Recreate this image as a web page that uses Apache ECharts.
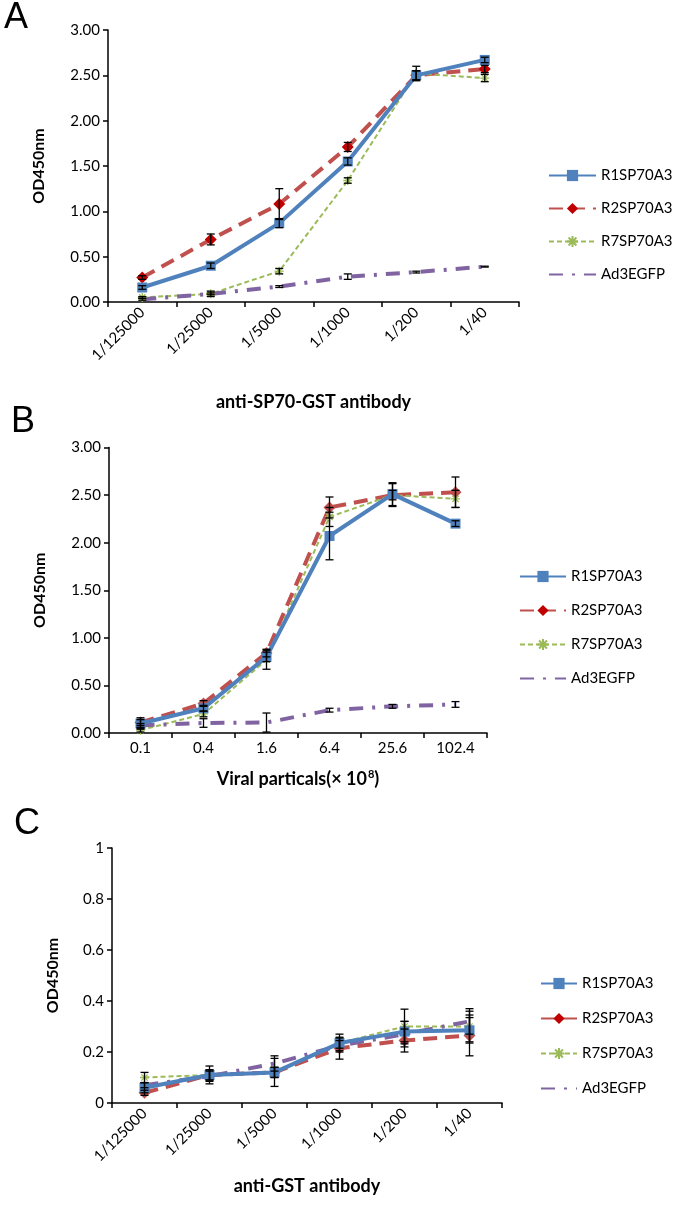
<!DOCTYPE html>
<html><head><meta charset="utf-8">
<script src="https://cdn.jsdelivr.net/npm/echarts@6/dist/echarts.min.js"></script>
<style>html,body{margin:0;padding:0;background:#fff}#c{width:684px;height:1218px}</style>
</head><body><div id="c"></div>
<script>
// ---- data ----
const seriesNames = ['R1SP70A3', 'R2SP70A3', 'R7SP70A3', 'Ad3EGFP'];
const dilutionLabels = ['1/125000', '1/25000', '1/5000', '1/1000', '1/200', '1/40'];
const viralLabels = ['0.1', '0.4', '1.6', '6.4', '25.6', '102.4'];

// Panel A: anti-SP70-GST antibody
const aR1 = [0.16, 0.40, 0.87, 1.55, 2.50, 2.67];
const aR2 = [0.27, 0.69, 1.08, 1.71, 2.50, 2.57];
const aR7 = [0.05, 0.09, 0.34, 1.34, 2.52, 2.47];
const aAd = [0.03, 0.09, 0.17, 0.28, 0.33, 0.39];
const aR1err = [0.02, 0.03, 0.05, 0.04, 0.05, 0.03];
const aR2err = [0.02, 0.06, 0.17, 0.05, 0.05, 0.04];
const aR7err = [0.01, 0.03, 0.03, 0.03, 0.08, 0.04];
const aAderr = [0.01, 0.01, 0.01, 0.03, 0.01, 0.005];

// Panel B: viral particles
const bR1 = [0.10, 0.26, 0.80, 2.07, 2.51, 2.20];
const bR2 = [0.11, 0.31, 0.84, 2.37, 2.50, 2.53];
const bR7 = [0.03, 0.20, 0.77, 2.27, 2.50, 2.46];
const bAd = [0.08, 0.105, 0.11, 0.24, 0.28, 0.30];
const bR1err = [0.06, 0.03, 0.05, 0.25, 0.12, 0.03];
const bR2err = [0.03, 0.03, 0.04, 0.11, 0.12, 0.16];
const bR7err = [0.02, 0.03, 0.10, 0.10, 0.05, 0.09];
const bAderr = [0.02, 0.045, 0.10, 0.02, 0.02, 0.03];

// Panel C: anti-GST antibody
const cR1 = [0.06, 0.11, 0.12, 0.235, 0.28, 0.285];
const cR2 = [0.04, 0.11, 0.12, 0.215, 0.245, 0.265];
const cR7 = [0.10, 0.11, 0.12, 0.235, 0.30, 0.30];
const cAd = [0.07, 0.105, 0.155, 0.225, 0.27, 0.32];
const cR1err = [0.02, 0.035, 0.055, 0.035, 0.04, 0.05];
const cR2err = [0.01, 0.02, 0.02, 0.043, 0.045, 0.08];
const cR7err = [0.02, 0.02, 0.02, 0.02, 0.068, 0.06];
const cAderr = [0.01, 0.02, 0.03, 0.02, 0.05, 0.05];

// ---- styles ----
const FONT = 'Lato';
const BLUE = '#4F81BD', RED = '#C0504D', RED_MK = '#C00000', GREEN = '#9BBB59', PURPLE = '#8064A2';
const STAR = 'path://M0,5L10,5M5,0L5,10M1.5,1.5L8.5,8.5M8.5,1.5L1.5,8.5';

function lineSeries(idx, name, data, redMarker) {
  const base = { type: 'line', name, data, xAxisIndex: idx, yAxisIndex: idx, z: 3, animation: false };
  if (name === 'R1SP70A3') return Object.assign(base, {
    symbol: 'rect', symbolSize: 10, lineStyle: { color: BLUE, width: 4 }, itemStyle: { color: BLUE }, z: 4 });
  if (name === 'R2SP70A3') return Object.assign(base, {
    symbol: 'diamond', symbolSize: 12, lineStyle: { color: RED, width: 4, type: [14, 8] },
    itemStyle: { color: redMarker ? RED_MK : RED } });
  if (name === 'R7SP70A3') return Object.assign(base, {
    symbol: STAR, symbolSize: 9, lineStyle: { color: GREEN, width: 2, type: [5, 3] },
    itemStyle: { color: GREEN, borderColor: GREEN, borderWidth: 1.3 } });
  return Object.assign(base, {
    symbol: 'none', lineStyle: { color: PURPLE, width: 4, type: [14, 9, 3, 9] }, itemStyle: { color: PURPLE, opacity: 0 } });
}

function errSeries(idx, values, errs) {
  const data = values.map((v, i) => [i, v - errs[i], v + errs[i]]);
  return {
    type: 'custom', xAxisIndex: idx, yAxisIndex: idx, z: 6, silent: true, animation: false,
    encode: { x: 0, y: [1, 2] }, data,
    renderItem(params, api) {
      const x = api.value(0);
      const lo = api.coord([x, api.value(1)]);
      const hi = api.coord([x, api.value(2)]);
      const w = 4, st = { stroke: '#000', lineWidth: 1.3 };
      return { type: 'group', children: [
        { type: 'line', shape: { x1: lo[0], y1: lo[1], x2: hi[0], y2: hi[1] }, style: st },
        { type: 'line', shape: { x1: lo[0] - w, y1: lo[1], x2: lo[0] + w, y2: lo[1] }, style: st },
        { type: 'line', shape: { x1: hi[0] - w, y1: hi[1], x2: hi[0] + w, y2: hi[1] }, style: st }
      ] };
    }
  };
}

const axisLine = { show: true, lineStyle: { color: '#000', width: 1.5 } };
const axisTick = { show: true, length: 5, lineStyle: { color: '#000', width: 1.5 } };
const tickText = { color: '#000', fontFamily: FONT, fontSize: 15 };
const yNameText = { color: '#000', fontFamily: FONT, fontSize: 16, fontWeight: 'bold' };
const xNameText = { color: '#000', fontFamily: FONT, fontSize: 18, fontWeight: 'bold' };

function xAxis(idx, labels, rotate, name, gap) {
  return {
    type: 'category', gridIndex: idx, data: labels, boundaryGap: true,
    axisLine, axisTick: Object.assign({ alignWithLabel: false }, axisTick),
    axisLabel: Object.assign({ rotate, margin: 8, interval: 0 }, tickText),
    splitLine: { show: false },
    name, nameLocation: 'middle', nameGap: gap,
    nameTextStyle: Object.assign({ rich: { sup: { fontFamily: FONT, fontSize: 11, fontWeight: 'bold', verticalAlign: 'top', padding: [0, 0, 9, 1] } } }, xNameText)
  };
}
function yAxis(idx, max, interval, fmt, gap) {
  return {
    type: 'value', gridIndex: idx, min: 0, max, interval,
    axisLine, axisTick,
    axisLabel: Object.assign({ formatter: fmt, margin: 8 }, tickText),
    splitLine: { show: false },
    name: 'OD450nm', nameLocation: 'middle', nameGap: gap, nameRotate: 90, nameTextStyle: yNameText
  };
}

const panels = [
  { vals: [aR1, aR2, aR7, aAd], errs: [aR1err, aR2err, aR7err, aAderr] },
  { vals: [bR1, bR2, bR7, bAd], errs: [bR1err, bR2err, bR7err, bAderr] },
  { vals: [cR1, cR2, cR7, cAd], errs: [cR1err, cR2err, cR7err, cAderr] }
];
const series = [];
panels.forEach((p, idx) => {
  seriesNames.forEach((n, k) => series.push(lineSeries(idx, n, p.vals[k], idx === 0)));
  seriesNames.forEach((n, k) => series.push(errSeries(idx, p.vals[k], p.errs[k])));
});

const legendBase = { orient: 'vertical', padding: 0, itemHeight: 14, selectedMode: false, data: seriesNames,
  textStyle: { color: '#000', fontFamily: FONT, fontSize: 15 } };
const letterStyle = { fontFamily: 'Liberation Sans', fontSize: 36, fontWeight: 'normal', color: '#000' };

const option = {
  backgroundColor: '#fff',
  animation: false,
  title: [
    { text: 'A', left: 4, top: 0, padding: 0, textStyle: letterStyle },
    { text: 'B', left: 11, top: 404, padding: 0, textStyle: letterStyle },
    { text: 'C', left: 14, top: 806, padding: 0, textStyle: letterStyle }
  ],
  grid: [
    { left: 108, top: 30, width: 411, height: 272 },
    { left: 109, top: 447.5, width: 378, height: 285.5 },
    { left: 112, top: 848, width: 390, height: 255 }
  ],
  xAxis: [
    xAxis(0, dilutionLabels, 45, 'anti-SP70-GST antibody', 91),
    xAxis(1, viralLabels, 0, 'Viral particals(\u00d7 10{sup|8})', 36),
    xAxis(2, dilutionLabels, 45, 'anti-GST antibody', 74)
  ],
  yAxis: [
    yAxis(0, 3, 0.5, v => v.toFixed(2), 61),
    yAxis(1, 3, 0.5, v => v.toFixed(2), 61),
    yAxis(2, 1, 0.2, v => String(+v.toFixed(1)), 51)
  ],
  legend: [
    Object.assign({ left: 548, top: 168, itemWidth: 47, itemGap: 18 }, legendBase),
    Object.assign({ left: 519, top: 569, itemWidth: 46, itemGap: 19 }, legendBase),
    Object.assign({ left: 540, top: 976, itemWidth: 36, itemGap: 20 }, legendBase)
  ],
  series
};
const chart = echarts.init(document.getElementById('c'), null, { renderer: 'canvas' });
chart.setOption(option);
</script></body></html>
